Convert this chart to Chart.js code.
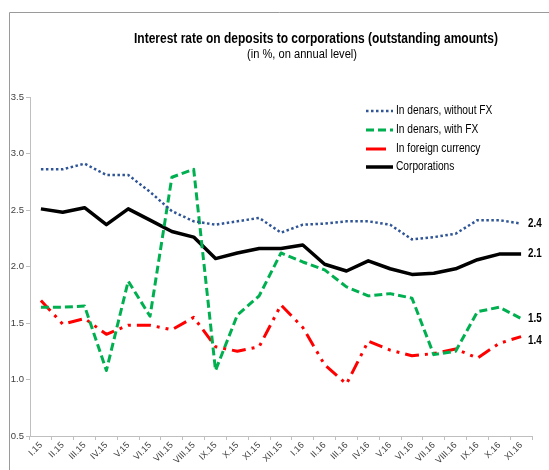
<!DOCTYPE html>
<html>
<head>
<meta charset="utf-8">
<script src="https://cdn.jsdelivr.net/npm/chart.js@4.4.1/dist/chart.umd.min.js"></script>
<style>
  body { margin: 0; background: #fff; }
  #wrap { width: 549px; height: 470px; }
</style>
</head>
<body>
<div id="wrap"><canvas id="chart" width="549" height="470"></canvas></div>
<script>
var months = ["I.15", "II.15", "III.15", "IV.15", "V.15", "VI.15", "VII.15", "VIII.15", "IX.15", "X.15", "XI.15", "XII.15",
  "I.16", "II.16", "III.16", "IV.16", "V.16", "VI.16", "VII.16", "VIII.16", "IX.16", "X.16", "XI.16"];
var withoutFx = [2.86, 2.86, 2.91, 2.81, 2.81, 2.66, 2.49, 2.40, 2.37, 2.40, 2.43, 2.30, 2.37, 2.38, 2.40, 2.40, 2.37, 2.24, 2.26, 2.29, 2.41, 2.41, 2.38];
var withFx = [1.64, 1.64, 1.65, 1.08, 1.87, 1.56, 2.79, 2.86, 1.08, 1.57, 1.74, 2.12, 2.04, 1.97, 1.82, 1.74, 1.76, 1.72, 1.22, 1.25, 1.60, 1.64, 1.54];
var foreignCurrency = [1.70, 1.49, 1.54, 1.40, 1.48, 1.48, 1.44, 1.55, 1.29, 1.25, 1.29, 1.66, 1.46, 1.13, 0.96, 1.34, 1.26, 1.21, 1.23, 1.27, 1.19, 1.32, 1.38];
var corporations = [2.51, 2.48, 2.52, 2.37, 2.51, 2.41, 2.31, 2.26, 2.07, 2.12, 2.16, 2.16, 2.19, 2.02, 1.96, 2.05, 1.98, 1.93, 1.94, 1.98, 2.06, 2.11, 2.11];
var seriesNames = ["In denars, without FX", "In denars, with FX", "In foreign currency", "Corporations"];
var yMin = 0.5, yMax = 3.5, yStep = 0.5;

var title = "Interest rate on deposits to corporations (outstanding amounts)";
var subtitle = "(in %, on annual level)";

// the original uses a condensed face, squeeze Liberation Sans a bit
function narrowText(ctx, text, x, y, squeeze) {
  var w = ctx.measureText(text).width;
  ctx.fillText(text, x, y, w * squeeze);
}

// frame, titles, legend and end labels
var decor = {
  id: 'decor',
  beforeDraw: function(chart) {
    var ctx = chart.ctx;
    ctx.save();
    ctx.fillStyle = '#fff';
    ctx.fillRect(0, 0, chart.width, chart.height);
    ctx.strokeStyle = '#9a9a9a';
    ctx.lineWidth = 1;
    ctx.beginPath();
    ctx.moveTo(9.5, chart.height);
    ctx.lineTo(9.5, 12.5);
    ctx.lineTo(chart.width, 12.5);
    ctx.stroke();
    ctx.fillStyle = '#000';
    ctx.textAlign = 'center';
    ctx.textBaseline = 'middle';
    ctx.font = 'bold 14px "Liberation Sans"';
    ctx.fillText(title, 316, 39, 364);
    ctx.font = '12.5px "Liberation Sans"';
    ctx.fillText(subtitle, 302, 55, 110);
    ctx.restore();
  },
  afterDraw: function(chart) {
    var ctx = chart.ctx;
    ctx.save();
    var rows = [111, 130, 149, 167];
    chart.data.datasets.forEach(function(ds, i) {
      ctx.strokeStyle = ds.borderColor;
      ctx.lineWidth = ds.borderWidth;
      ctx.setLineDash(ds.legendDash || []);
      ctx.beginPath();
      ctx.moveTo(366, rows[i]);
      ctx.lineTo(i === 2 ? 386 : 393, rows[i]);
      ctx.stroke();
      ctx.setLineDash([]);
      ctx.fillStyle = '#000';
      ctx.font = '12px "Liberation Sans"';
      ctx.textAlign = 'left';
      ctx.textBaseline = 'middle';
      narrowText(ctx, ds.label, 396, rows[i], 0.85);

      // value at the end of the line
      var meta = chart.getDatasetMeta(i);
      var last = meta.data[meta.data.length - 1];
      var v = ds.data[ds.data.length - 1];
      ctx.font = 'bold 12px "Liberation Sans"';
      narrowText(ctx, v.toFixed(1), last.x + 7, last.y + (ds.labelShift || 0), 0.82);
    });
    ctx.restore();
  }
};

var ctx = document.getElementById('chart').getContext('2d');
var chart = new Chart(ctx, {
  type: 'line',
  data: {
    labels: months,
    datasets: [{
      label: seriesNames[0],
      data: withoutFx,
      borderColor: '#2f5597',
      borderWidth: 2.5,
      borderDash: [2.5, 2.5],
      legendDash: [2.5, 2.5],
      labelShift: 0
    }, {
      label: seriesNames[1],
      data: withFx,
      borderColor: '#00b050',
      borderWidth: 3,
      borderDash: [8, 4],
      legendDash: [8, 4],
      labelShift: 0
    }, {
      label: seriesNames[2],
      data: foreignCurrency,
      borderColor: '#ff0000',
      borderWidth: 3,
      borderDash: [14, 6, 3, 6, 3, 6],
      legendDash: [],
      labelShift: 4
    }, {
      label: seriesNames[3],
      data: corporations,
      borderColor: '#000000',
      borderWidth: 3.5,
      borderDash: [],
      legendDash: [],
      labelShift: 0
    }]
  },
  options: {
    responsive: false,
    animation: false,
    devicePixelRatio: 1,
    layout: { padding: { top: 97, right: 17, bottom: 0, left: 0 } },
    elements: {
      point: { radius: 0 },
      line: { tension: 0, borderCapStyle: 'butt', borderJoinStyle: 'round' }
    },
    plugins: {
      legend: { display: false },
      title: { display: false },
      tooltip: { enabled: false }
    },
    scales: {
      x: {
        offset: true,
        grid: { display: true, drawOnChartArea: false, drawTicks: true, tickLength: 4, color: '#bfbfbf', offset: true },
        border: { color: '#bfbfbf' },
        ticks: {
          maxRotation: 45, minRotation: 45, autoSkip: false, padding: 0,
          color: '#404040', font: { family: 'Liberation Sans', size: 9 }
        },
        afterFit: function(scale) { scale.height = 34; }
      },
      y: {
        min: yMin, max: yMax,
        grid: { display: true, drawOnChartArea: false, drawTicks: true, tickLength: 4, color: '#bfbfbf' },
        border: { color: '#bfbfbf' },
        ticks: {
          stepSize: yStep, padding: 2,
          color: '#404040', font: { family: 'Liberation Sans', size: 9.5 },
          callback: function(v) { return Number(v).toFixed(1); }
        },
        afterFit: function(scale) { scale.width = 30; }
      }
    }
  },
  plugins: [decor]
});
</script>
</body>
</html>
